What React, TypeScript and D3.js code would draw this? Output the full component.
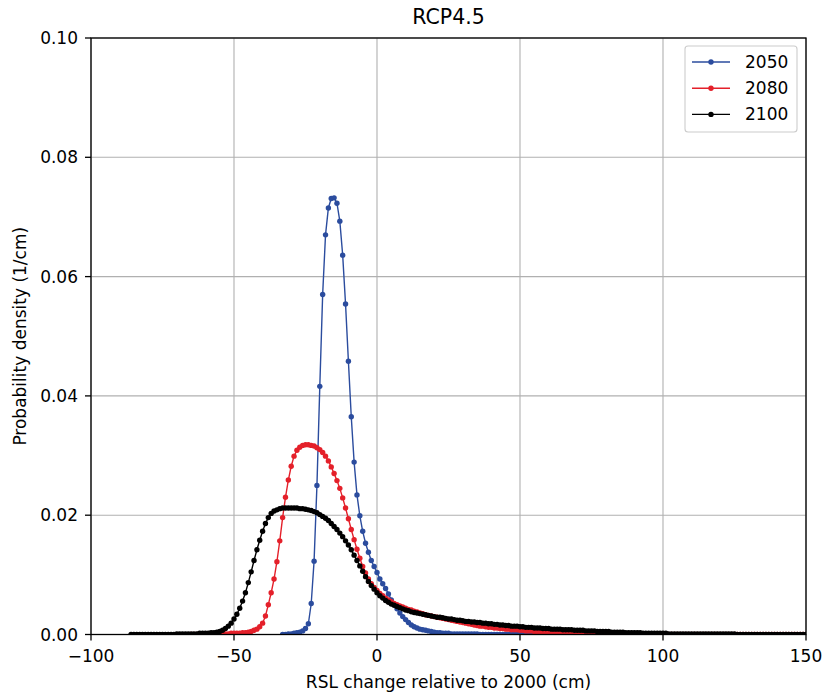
import React from "react";
import * as d3 from "d3";

const title = "RCP4.5";
const xLabel = "RSL change relative to 2000 (cm)";
const yLabel = "Probability density (1/cm)";
const xTicks = [-100, -50, 0, 50, 100, 150];
const yTicks = [0, 0.02, 0.04, 0.06, 0.08, 0.1];
const seriesNames = ["2050", "2080", "2100"];
const seriesColors = ["#2b4c9e", "#e4202a", "#000000"];

// sampling grids: start (cm) and step (cm)
const blueStart = -33;
const redStart = -65;
const blackStart = -86;
const sampleStep = 1;

const blue2050 = [
  0.0000, 0.0000, 0.0001, 0.0001, 0.0002, 0.0003, 0.0004, 0.0006, 0.0010, 0.0018,
  0.0052, 0.0123, 0.0250, 0.0416, 0.0570, 0.0670, 0.0715, 0.0731, 0.0732, 0.0723,
  0.0693, 0.0636, 0.0554, 0.0458, 0.0365, 0.0289, 0.0234, 0.0199, 0.0173, 0.0153,
  0.0138, 0.0124, 0.0114, 0.0104, 0.0093, 0.0085, 0.0077, 0.0068, 0.0058, 0.0050,
  0.0043, 0.0036, 0.0030, 0.0025, 0.0020, 0.0016, 0.0013, 0.0011, 0.0009, 0.0008,
  0.0007, 0.0006, 0.0005, 0.0004, 0.0003, 0.0003, 0.0002, 0.0002, 0.0002, 0.0001,
  0.0001, 0.0001, 0.0001, 0.0001, 0.0001, 0.0001, 0.0001, 0.0001, 0.0001, 0.0000,
  0.0000, 0.0000, 0.0000, 0.0000, 0.0000, 0.0000, 0.0000, 0.0000, 0.0000, 0.0000,
  0.0000, 0.0000, 0.0000, 0.0000, 0.0000, 0.0000, 0.0000, 0.0000, 0.0000, 0.0000,
  0.0000, 0.0000, 0.0000, 0.0000,
];

const red2080 = [
  // -65 .. -56
  0.0000, 0.0000, 0.0000, 0.0000, 0.0000, 0.0000, 0.0000, 0.0000, 0.0000, 0.0000,
  // -55 .. -46
  0.0001, 0.0001, 0.0001, 0.0001, 0.0002, 0.0002, 0.0002, 0.0002, 0.0003, 0.0003,
  // -45 .. -36
  0.0004, 0.0005, 0.0007, 0.0009, 0.0013, 0.0019, 0.0031, 0.0050, 0.0070, 0.0093,
  // -35 .. -26
  0.0122, 0.0157, 0.0196, 0.0230, 0.0259, 0.0282, 0.0299, 0.0309, 0.0314, 0.0317,
  // -25 .. -16
  0.0318, 0.0318, 0.0317, 0.0316, 0.0313, 0.0310, 0.0305, 0.0299, 0.0291, 0.0281,
  // -15 .. -6
  0.0270, 0.0258, 0.0245, 0.0229, 0.0212, 0.0194, 0.0176, 0.0159, 0.0143, 0.0128,
  // -5 .. 4
  0.0114, 0.0103, 0.0093, 0.0085, 0.0079, 0.0074, 0.0069, 0.0065, 0.0061, 0.0058,
  // 5 .. 14
  0.0055, 0.0052, 0.0050, 0.0048, 0.0046, 0.0044, 0.0042, 0.0041, 0.0039, 0.0038,
  // 15 .. 24
  0.0036, 0.0035, 0.0033, 0.0032, 0.0031, 0.0030, 0.0029, 0.0028, 0.0027, 0.0026,
  // 25 .. 34
  0.0025, 0.0024, 0.0023, 0.0022, 0.0021, 0.0020, 0.0019, 0.0018, 0.0017, 0.0016,
  // 35 .. 44
  0.0015, 0.0014, 0.0014, 0.0013, 0.0012, 0.0012, 0.0011, 0.0011, 0.0010, 0.0010,
  // 45 .. 54
  0.0009, 0.0009, 0.0008, 0.0008, 0.0008, 0.0007, 0.0007, 0.0006, 0.0006, 0.0006,
  // 55 .. 64
  0.0005, 0.0005, 0.0005, 0.0004, 0.0004, 0.0004, 0.0004, 0.0003, 0.0003, 0.0003,
  // 65 .. 74
  0.0003, 0.0003, 0.0002, 0.0002, 0.0002, 0.0002, 0.0002, 0.0002, 0.0002, 0.0002,
  // 75 .. 84
  0.0001, 0.0001, 0.0001, 0.0001, 0.0001, 0.0001, 0.0001, 0.0001, 0.0001, 0.0001,
  // 85 .. 94
  0.0001, 0.0001, 0.0001, 0.0001, 0.0001, 0.0001, 0.0001, 0.0001, 0.0001, 0.0001,
  // 95 .. 104
  0.0001, 0.0001, 0.0001, 0.0001, 0.0001, 0.0001, 0.0000, 0.0000, 0.0000, 0.0000,
  // 105 .. 114
  0.0000, 0.0000, 0.0000, 0.0000, 0.0000, 0.0000, 0.0000, 0.0000, 0.0000, 0.0000,
  // 115 .. 124
  0.0000, 0.0000, 0.0000, 0.0000, 0.0000, 0.0000, 0.0000, 0.0000, 0.0000, 0.0000,
  // 125 .. 134
  0.0000, 0.0000, 0.0000, 0.0000, 0.0000, 0.0000, 0.0000, 0.0000, 0.0000, 0.0000,
  // 135 .. 144
  0.0000, 0.0000, 0.0000, 0.0000, 0.0000, 0.0000, 0.0000, 0.0000, 0.0000, 0.0000,
  // 145 .. 150
  0.0000, 0.0000, 0.0000, 0.0000, 0.0000, 0.0000,
];

const black2100 = [
  // -86 .. -77
  0.0000, 0.0000, 0.0000, 0.0000, 0.0000, 0.0000, 0.0000, 0.0000, 0.0000, 0.0000,
  // -76 .. -67
  0.0000, 0.0000, 0.0000, 0.0000, 0.0000, 0.0000, 0.0001, 0.0001, 0.0001, 0.0001,
  // -66 .. -57
  0.0001, 0.0001, 0.0001, 0.0001, 0.0002, 0.0002, 0.0002, 0.0002, 0.0003, 0.0003,
  // -56 .. -47
  0.0004, 0.0005, 0.0007, 0.0010, 0.0014, 0.0019, 0.0026, 0.0034, 0.0044, 0.0056,
  // -46 .. -37
  0.0070, 0.0087, 0.0105, 0.0124, 0.0142, 0.0158, 0.0173, 0.0186, 0.0196, 0.0203,
  // -36 .. -27
  0.0207, 0.0209, 0.0211, 0.0212, 0.0212, 0.0212, 0.0212, 0.0212, 0.0212, 0.0211,
  // -26 .. -17
  0.0211, 0.0210, 0.0209, 0.0208, 0.0206, 0.0204, 0.0201, 0.0198, 0.0195, 0.0191,
  // -16 .. -7
  0.0186, 0.0181, 0.0176, 0.0170, 0.0164, 0.0157, 0.0150, 0.0142, 0.0133, 0.0124,
  // -6 .. 3
  0.0115, 0.0106, 0.0097, 0.0089, 0.0082, 0.0076, 0.0070, 0.0065, 0.0061, 0.0057,
  // 4 .. 13
  0.0054, 0.0051, 0.0049, 0.0047, 0.0045, 0.0043, 0.0041, 0.0040, 0.0038, 0.0037,
  // 14 .. 23
  0.0036, 0.0035, 0.0034, 0.0033, 0.0032, 0.0031, 0.0030, 0.0029, 0.0029, 0.0028,
  // 24 .. 33
  0.0027, 0.0026, 0.0026, 0.0025, 0.0024, 0.0024, 0.0023, 0.0022, 0.0022, 0.0021,
  // 34 .. 43
  0.0021, 0.0020, 0.0020, 0.0019, 0.0019, 0.0018, 0.0018, 0.0017, 0.0017, 0.0016,
  // 44 .. 53
  0.0016, 0.0015, 0.0015, 0.0014, 0.0014, 0.0014, 0.0013, 0.0013, 0.0012, 0.0012,
  // 54 .. 63
  0.0012, 0.0011, 0.0011, 0.0011, 0.0010, 0.0010, 0.0010, 0.0009, 0.0009, 0.0009,
  // 64 .. 73
  0.0009, 0.0008, 0.0008, 0.0008, 0.0008, 0.0007, 0.0007, 0.0007, 0.0007, 0.0006,
  // 74 .. 83
  0.0006, 0.0006, 0.0006, 0.0005, 0.0005, 0.0005, 0.0005, 0.0005, 0.0004, 0.0004,
  // 84 .. 93
  0.0004, 0.0004, 0.0004, 0.0003, 0.0003, 0.0003, 0.0003, 0.0003, 0.0003, 0.0002,
  // 94 .. 103
  0.0002, 0.0002, 0.0002, 0.0002, 0.0002, 0.0002, 0.0002, 0.0002, 0.0001, 0.0001,
  // 104 .. 113
  0.0001, 0.0001, 0.0001, 0.0001, 0.0001, 0.0001, 0.0001, 0.0001, 0.0001, 0.0001,
  // 114 .. 123
  0.0001, 0.0001, 0.0001, 0.0001, 0.0001, 0.0001, 0.0001, 0.0001, 0.0001, 0.0001,
  // 124 .. 133
  0.0001, 0.0001, 0.0000, 0.0000, 0.0000, 0.0000, 0.0000, 0.0000, 0.0000, 0.0000,
  // 134 .. 143
  0.0000, 0.0000, 0.0000, 0.0000, 0.0000, 0.0000, 0.0000, 0.0000, 0.0000, 0.0000,
  // 144 .. 150
  0.0000, 0.0000, 0.0000, 0.0000, 0.0000, 0.0000, 0.0000,
];

const seriesValues = [blue2050, red2080, black2100];
const seriesStarts = [blueStart, redStart, blackStart];

const W = 827;
const H = 695;
const left = 91;
const right = 806;
const top = 38;
const bottom = 634.5;
const FONT = "'DejaVu Sans', sans-serif";
const DOT_R = 2.7;

export default function App() {
  const x = d3.scaleLinear().domain([-100, 150]).range([left, right]);
  const y = d3.scaleLinear().domain([0, 0.1]).range([bottom, top]);
  const line = d3
    .line<[number, number]>()
    .x((d) => x(d[0]))
    .y((d) => y(d[1]));

  const series = seriesValues.map((vals, si) =>
    vals.map((v, i) => [seriesStarts[si] + i * sampleStep, v] as [number, number])
  );

  const fmtY = (v: number) => v.toFixed(2);
  const fmtX = (v: number) => (v < 0 ? "\u2212" + Math.abs(v) : String(v));

  return (
    <svg
      width={W}
      height={H}
      style={{ position: "absolute", left: 0, top: 0, background: "#fff" }}
      fontFamily={FONT}
    >
      <defs>
        <clipPath id="plotclip">
          <rect x={left} y={top} width={right - left} height={bottom - top} />
        </clipPath>
      </defs>
      <rect x={0} y={0} width={W} height={H} fill="#fff" />
      {/* grid */}
      {xTicks.map((t) => (
        <line key={"gx" + t} x1={x(t)} x2={x(t)} y1={top} y2={bottom} stroke="#b0b0b0" strokeWidth={1.1} />
      ))}
      {yTicks.map((t) => (
        <line key={"gy" + t} x1={left} x2={right} y1={y(t)} y2={y(t)} stroke="#b0b0b0" strokeWidth={1.1} />
      ))}
      {/* series */}
      <g clipPath="url(#plotclip)">
        {series.map((pts, si) => (
          <g key={seriesNames[si]}>
            <path d={line(pts) || ""} fill="none" stroke={seriesColors[si]} strokeWidth={1.4} />
            {pts.map((p, i) => (
              <circle key={i} cx={x(p[0])} cy={y(p[1])} r={DOT_R} fill={seriesColors[si]} />
            ))}
          </g>
        ))}
      </g>
      {/* spines */}
      <rect x={left} y={top} width={right - left} height={bottom - top} fill="none" stroke="#000" strokeWidth={1.3} />
      {/* x ticks */}
      {xTicks.map((t) => (
        <g key={"xt" + t}>
          <line x1={x(t)} x2={x(t)} y1={bottom} y2={bottom + 6} stroke="#000" strokeWidth={1.3} />
          <text x={x(t)} y={bottom + 27} textAnchor="middle" fontSize={17}>
            {fmtX(t)}
          </text>
        </g>
      ))}
      {/* y ticks */}
      {yTicks.map((t) => (
        <g key={"yt" + t}>
          <line x1={left - 6} x2={left} y1={y(t)} y2={y(t)} stroke="#000" strokeWidth={1.3} />
          <text x={left - 13} y={y(t) + 6} textAnchor="end" fontSize={17}>
            {fmtY(t)}
          </text>
        </g>
      ))}
      {/* labels */}
      <text x={(left + right) / 2} y={24} textAnchor="middle" fontSize={20.5}>
        {title}
      </text>
      <text x={(left + right) / 2} y={688} textAnchor="middle" fontSize={17}>
        {xLabel}
      </text>
      <text
        transform={`translate(26, ${(top + bottom) / 2}) rotate(-90)`}
        textAnchor="middle"
        fontSize={17}
      >
        {yLabel}
      </text>
      {/* legend */}
      <rect x={685} y={46} width={112} height={86} rx={3} fill="#fff" fillOpacity={0.8} stroke="#cccccc" strokeWidth={1.1} />
      {seriesNames.map((name, i) => {
        const ly = 62 + i * 26.2;
        return (
          <g key={"lg" + name}>
            <line x1={692} x2={730} y1={ly} y2={ly} stroke={seriesColors[i]} strokeWidth={1.4} />
            <circle cx={711} cy={ly} r={DOT_R} fill={seriesColors[i]} />
            <text x={745} y={ly + 6} fontSize={17}>
              {name}
            </text>
          </g>
        );
      })}
    </svg>
  );
}
